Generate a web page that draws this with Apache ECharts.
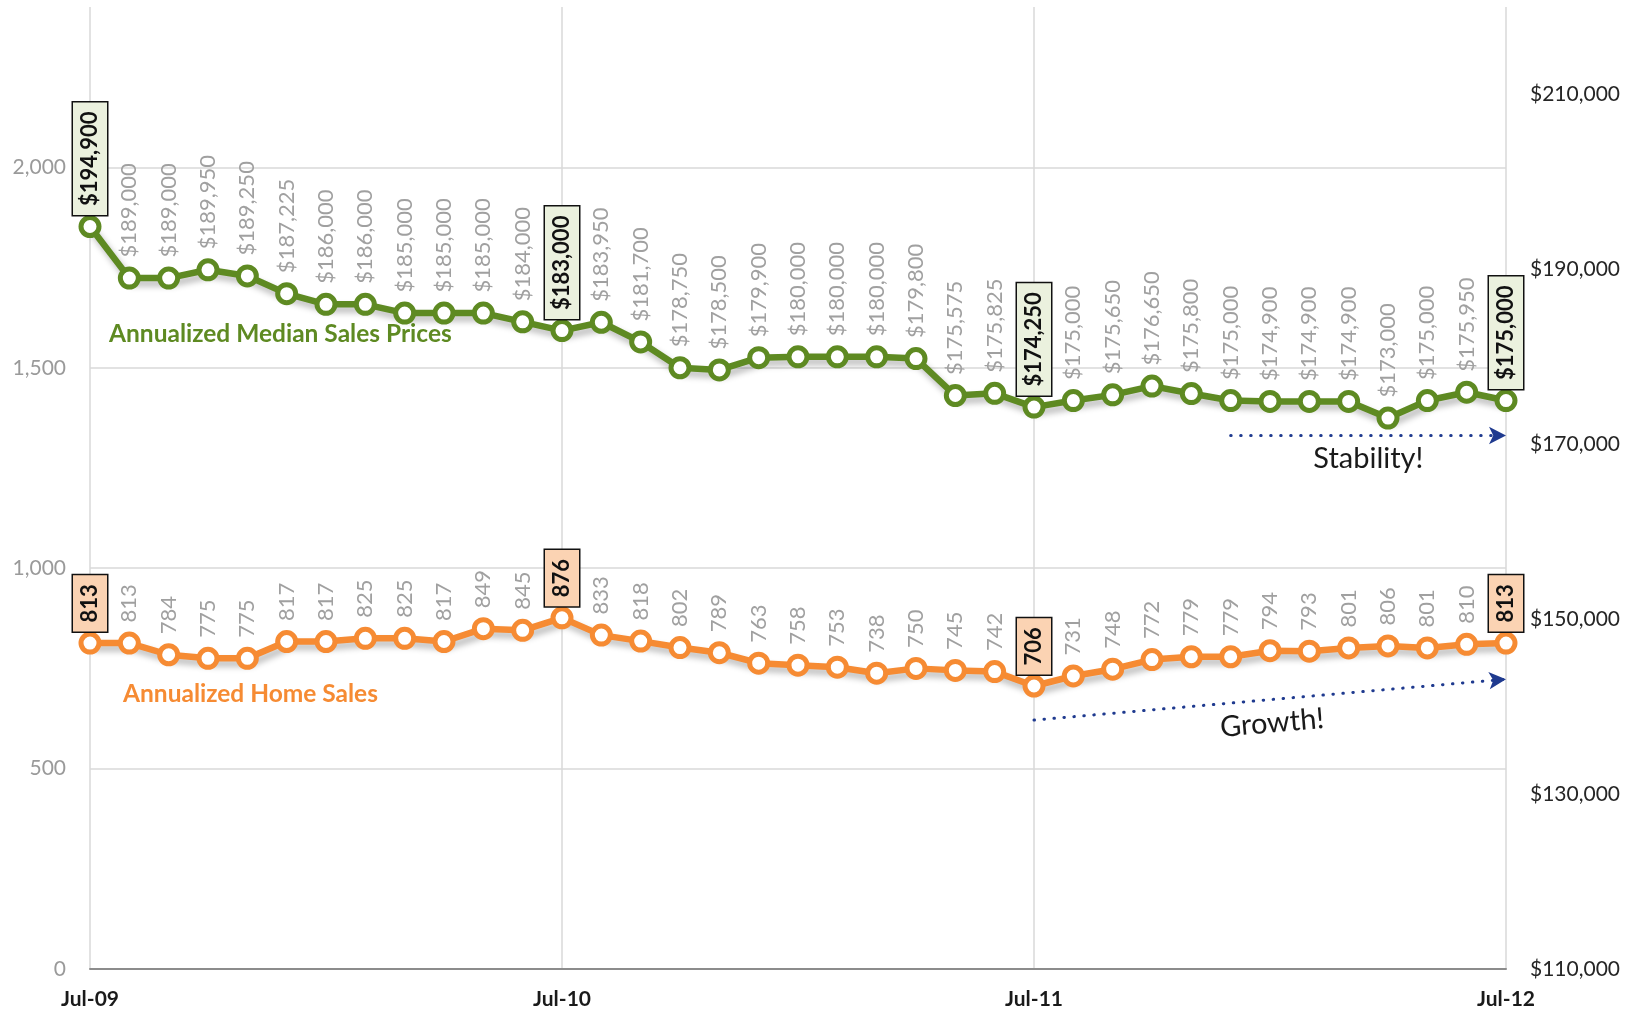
<!DOCTYPE html>
<html>
<head>
<meta charset="utf-8">
<script src="https://cdn.jsdelivr.net/npm/echarts@6/dist/echarts.min.js"></script>
<style>
  html, body { margin: 0; padding: 0; background: #fff; }
  #chart { width: 1631px; height: 1013px; }
</style>
</head>
<body>
<div id="chart"></div>
<script>
// monthly points, Jul-09 .. Jul-12
const categories = [
  'Jul-09', 'Aug-09', 'Sep-09', 'Oct-09', 'Nov-09', 'Dec-09', 'Jan-10', 'Feb-10', 'Mar-10', 'Apr-10', 'May-10', 'Jun-10',
  'Jul-10', 'Aug-10', 'Sep-10', 'Oct-10', 'Nov-10', 'Dec-10', 'Jan-11', 'Feb-11', 'Mar-11', 'Apr-11', 'May-11', 'Jun-11',
  'Jul-11', 'Aug-11', 'Sep-11', 'Oct-11', 'Nov-11', 'Dec-11', 'Jan-12', 'Feb-12', 'Mar-12', 'Apr-12', 'May-12', 'Jun-12',
  'Jul-12'
];
const medianPrices = [
  194900, 189000, 189000, 189950, 189250, 187225, 186000, 186000, 185000, 185000, 185000, 184000,
  183000, 183950, 181700, 178750, 178500, 179900, 180000, 180000, 180000, 179800, 175575, 175825,
  174250, 175000, 175650, 176650, 175800, 175000, 174900, 174900, 174900, 173000, 175000, 175950,
  175000
];
const homeSales = [
  813, 813, 784, 775, 775, 817, 817, 825, 825, 817, 849, 845,
  876, 833, 818, 802, 789, 763, 758, 753, 738, 750, 745, 742,
  706, 731, 748, 772, 779, 779, 794, 793, 801, 806, 801, 810,
  813
];
const highlighted = [0, 12, 24, 36];
// annotation arrows (category index, value)
const stabilityArrow = [[29, 171000], [36, 171000]];
const growthArrow = [[24, 621], [36, 723]];

const GREEN = '#5E8A22';
const ORANGE = '#F68B33';
const FONT = 'Lato, "Open Sans", sans-serif';

let myChart = echarts.init(document.getElementById('chart'));

function fmtMoney(v) {
  return '$' + v.toLocaleString('en-US');
}

function buildData(values, boxColor) {
  return values.map(function (v, i) {
    if (highlighted.indexOf(i) < 0) return v;
    return {
      value: v,
      label: {
        color: '#111',
        fontWeight: 'bold',
        backgroundColor: boxColor,
        borderColor: '#111',
        borderWidth: 1.5,
        padding: [7, 9, 5, 9],
        distance: 0
      }
    };
  });
}

function lineSeries(name, values, color, boxColor, yIdx, fmt) {
  return {
    name: name,
    type: 'line',
    yAxisIndex: yIdx,
    data: buildData(values, boxColor),
    symbol: 'circle',
    symbolSize: 18,
    lineStyle: {
      color: color,
      width: 6.5,
      shadowColor: 'rgba(0,0,0,0.28)',
      shadowBlur: 6,
      shadowOffsetX: 3,
      shadowOffsetY: 5
    },
    itemStyle: {
      color: '#ffffff',
      borderColor: color,
      borderWidth: 5,
      opacity: 1
    },
    label: {
      show: true,
      position: 'top',
      rotate: 90,
      align: 'left',
      verticalAlign: 'middle',
      distance: 9,
      color: '#A0A0A0',
      fontFamily: FONT,
      fontSize: 22,
      formatter: function (p) { return fmt(p.value); }
    },
    z: 3
  };
}

function arrowLine(points, text) {
  return {
    silent: true,
    symbol: ['none', 'arrow'],
    symbolSize: [13, 17],
    lineStyle: { color: '#1F3A8F', width: 3, type: [0.5, 9.5], cap: 'round' },
    label: {
      show: true,
      position: 'insideMiddleBottom',
      formatter: text,
      color: '#1a1a1a',
      fontFamily: FONT,
      fontSize: 29,
      distance: 9
    },
    data: [[{ coord: points[0] }, { coord: points[1] }]]
  };
}

let priceSeries = lineSeries('Annualized Median Sales Prices', medianPrices, GREEN, '#EBF1DE', 1, fmtMoney);
priceSeries.markLine = arrowLine(stabilityArrow, 'Stability!');
let salesSeries = lineSeries('Annualized Home Sales', homeSales, ORANGE, '#FBD3B3', 0, function (v) { return String(v); });
salesSeries.markLine = arrowLine(growthArrow, 'Growth!');

let option = {
  animation: false,
  grid: { left: 90, right: 125, top: 7, bottom: 44 },
  xAxis: {
    type: 'category',
    data: categories,
    boundaryGap: false,
    axisLine: { lineStyle: { color: '#8c8c8c', width: 2 } },
    axisTick: { show: false },
    axisLabel: {
      interval: 11,
      margin: 20,
      color: '#1a1a1a',
      fontWeight: 'bold',
      fontFamily: FONT,
      fontSize: 21
    },
    splitLine: { show: true, interval: 11, lineStyle: { color: '#d9d9d9', width: 1.5 } }
  },
  yAxis: [
    {
      type: 'value',
      min: 0,
      max: 2400,
      interval: 500,
      axisLine: { show: false },
      axisTick: { show: false },
      axisLabel: {
        margin: 24,
        color: '#9a9a9a',
        fontFamily: FONT,
        fontSize: 21,
        formatter: function (v) { return v > 2000 ? '' : v.toLocaleString('en-US'); }
      },
      splitLine: { show: true, showMinLine: false, showMaxLine: false, lineStyle: { color: '#d9d9d9', width: 1.5 } }
    },
    {
      type: 'value',
      min: 110000,
      max: 220000,
      interval: 10000,
      axisLine: { show: false },
      axisTick: { show: false },
      splitLine: { show: false },
      axisLabel: {
        margin: 24,
        color: '#262626',
        fontFamily: FONT,
        fontSize: 21,
        formatter: function (v) { return (v - 110000) % 20000 === 0 ? fmtMoney(v) : ''; }
      }
    }
  ],
  graphic: [
    {
      type: 'text', left: 109, top: 322,
      style: { text: 'Annualized Median Sales Prices', fill: GREEN, font: 'bold 24.5px ' + FONT }
    },
    {
      type: 'text', left: 123, top: 682,
      style: { text: 'Annualized Home Sales', fill: ORANGE, font: 'bold 24.5px ' + FONT }
    }
  ],
  series: [salesSeries, priceSeries]
};

myChart.setOption(option);
window.addEventListener('resize', function () {
  myChart.resize();
});
</script>
</body>
</html>
